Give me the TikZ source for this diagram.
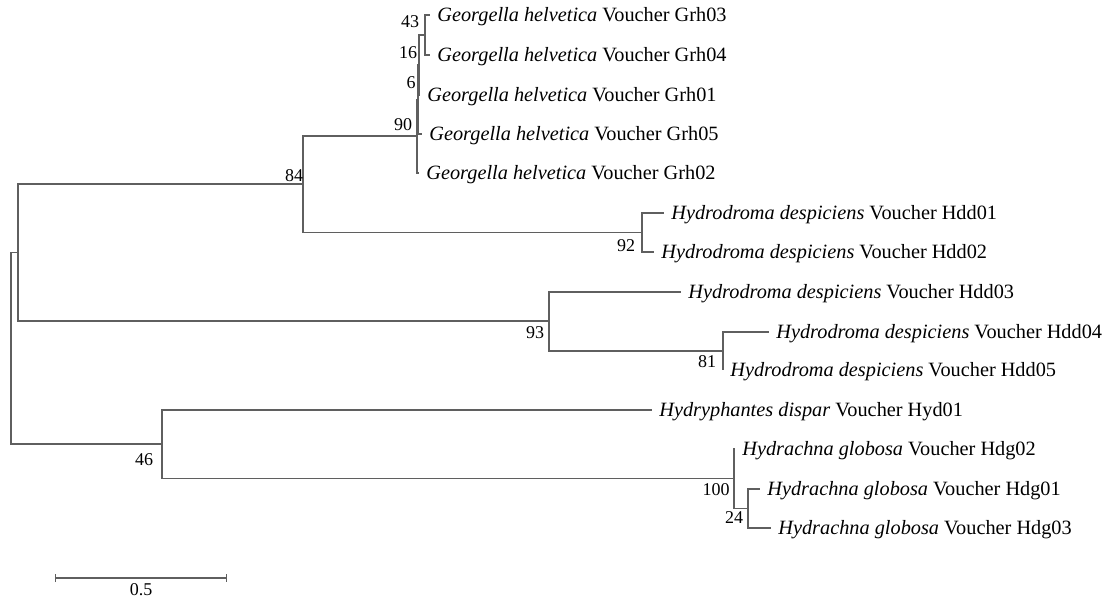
\documentclass[tikz,border=0pt]{standalone}
\usepackage{fontspec}
\setmainfont{Liberation Serif}
\usetikzlibrary{arrows.meta,positioning}
\definecolor{branchgray}{RGB}{95,95,95}

\begin{document}
\begin{tikzpicture}[
x=0.5pt, y=-0.5pt,
branch/.style={
draw=branchgray,
line width=0.65pt
},
leaf/.style={
anchor=west,
inner xsep=3.5pt,
inner ysep=0pt,
text height=6.6pt,
text depth=0pt,
font=\fontsize{10.15}{12}\selectfont
},
support/.style={
inner sep=0pt,
font=\fontsize{9}{10}\selectfont
}
]
\useasboundingbox (0,0) rectangle (1114,601);

% Internal nodes
\coordinate (root) at (11,348.5);
\coordinate (n0) at (18,252.5);
\coordinate (n84) at (303,184);
\coordinate (n90) at (417,136);
\coordinate (n6) at (418,99.5);
\coordinate (n16) at (419,65);
\coordinate (n43) at (425,35);
\coordinate (n92) at (642,232.5);
\coordinate (n93) at (549,321);
\coordinate (n81) at (723,351);
\coordinate (n46) at (162,444);
\coordinate (n100) at (734,478.5);
\coordinate (n24) at (748,508.5);

% Leaves
\node[leaf] (grh03) at (430,15) {\textit{Georgella helvetica} Voucher Grh03};
\node[leaf] (grh04) at (430,55) {\textit{Georgella helvetica} Voucher Grh04};
\node[leaf] (grh01) at (420,95) {\textit{Georgella helvetica} Voucher Grh01};
\node[leaf] (grh05) at (422,134) {\textit{Georgella helvetica} Voucher Grh05};
\node[leaf] (grh02) at (419,173) {\textit{Georgella helvetica} Voucher Grh02};
\node[leaf] (hdd01) at (664,213) {\textit{Hydrodroma despiciens} Voucher Hdd01};
\node[leaf] (hdd02) at (654,252) {\textit{Hydrodroma despiciens} Voucher Hdd02};
\node[leaf] (hdd03) at (681,292) {\textit{Hydrodroma despiciens} Voucher Hdd03};
\node[leaf] (hdd04) at (769,332) {\textit{Hydrodroma despiciens} Voucher Hdd04};
\node[leaf] (hdd05) at (723,370) {\textit{Hydrodroma despiciens} Voucher Hdd05};
\node[leaf] (hyd01) at (652,410) {\textit{Hydryphantes dispar} Voucher Hyd01};
\node[leaf] (hdg02) at (735,449) {\textit{Hydrachna globosa} Voucher Hdg02};
\node[leaf] (hdg01) at (760,489) {\textit{Hydrachna globosa} Voucher Hdg01};
\node[leaf] (hdg03) at (771,528) {\textit{Hydrachna globosa} Voucher Hdg03};

% Branches
\foreach \p/\c in {root/n0, root/n46, n0/n84, n0/n93, n84/n90, n84/n92,
  n90/n6, n6/n16, n16/n43, n93/n81, n46/n100, n100/n24}
  \draw[branch] (\p) |- (\c);
\foreach \p/\c in {n43/grh03, n43/grh04, n16/grh01, n6/grh05, n90/grh02,
  n92/hdd01, n92/hdd02, n93/hdd03, n81/hdd04, n81/hdd05,
  n46/hyd01, n100/hdg02, n24/hdg01, n24/hdg03}
  \draw[branch] (\p) |- (\c.west);

% Bootstrap values
\node[support] (b43) at (410,22) {43};
\node[support] (b16) at (408,53) {16};
\node[support] (b6) at (411,83) {6};
\node[support] (b90) at (403,125) {90};
\node[support] (b84) at (294,176) {84};
\node[support] (b92) at (626,246) {92};
\node[support] (b93) at (535,333) {93};
\node[support] (b81) at (707,362) {81};
\node[support] (b46) at (144,460) {46};
\node[support] (b100) at (716,490) {100};
\node[support] (b24) at (734,518) {24};

% Scale bar
\coordinate (sbl) at (55,578);
\coordinate (sbr) at (227,578);
\draw[branch, {Bar[width=4pt]}-{Bar[width=4pt]}] (sbl) -- (sbr)
  node[midway, below=2.5pt, support] (sblabel) {0.5};

\end{tikzpicture}
\end{document}
